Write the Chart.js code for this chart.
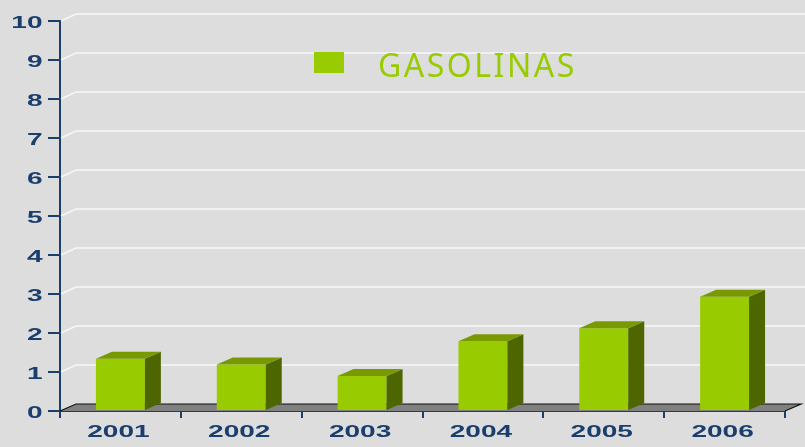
<!DOCTYPE html>
<html>
<head>
<meta charset="utf-8">
<script src="https://cdn.jsdelivr.net/npm/chart.js@4"></script>
<style>
  body { margin: 0; background: #dddddd; }
  #wrap { width: 805px; height: 447px; }
</style>
</head>
<body>
<div id="wrap"><canvas id="fuelChart" width="805" height="447"></canvas></div>
<script>
// data
var years = ['2001', '2002', '2003', '2004', '2005', '2006'];
var gasolinas = [1.34, 1.19, 0.90, 1.79, 2.12, 2.93];
var yMin = 0, yMax = 10, yStep = 1;

var DX = 16, DY = -7; // depth of the fake 3d
var axisBlue = '#1b3f6d';
var tickFont = 'bold 17px "Liberation Sans", Arial, sans-serif';
var stretch = 1.65; // labels in the original are drawn wide

// back wall grid, floor, 3d sides, legend and the stretched labels
var depthPlugin = {
    id: 'depth',
    beforeDatasetsDraw: function (chart) {
        var ctx = chart.ctx, a = chart.chartArea, ys = chart.scales.y;
        ctx.save();
        // grid on the back wall
        ctx.strokeStyle = '#f7f7f7';
        ctx.lineWidth = 1.5;
        ys.ticks.forEach(function (t) {
            if (t.value === yMin) return;
            var y = ys.getPixelForValue(t.value);
            ctx.beginPath();
            ctx.moveTo(a.left + 1, y);
            ctx.lineTo(a.left + DX, y + DY);
            ctx.lineTo(chart.width, y + DY);
            ctx.stroke();
        });
        // floor
        var b = ys.getPixelForValue(yMin);
        ctx.beginPath();
        ctx.moveTo(a.left, b);
        ctx.lineTo(a.left + DX, b + DY);
        ctx.lineTo(a.right + DX, b + DY);
        ctx.lineTo(a.right, b);
        ctx.closePath();
        ctx.fillStyle = '#808080';
        ctx.fill();
        ctx.strokeStyle = '#111111';
        ctx.lineWidth = 1.2;
        ctx.beginPath();
        ctx.moveTo(a.left, b);
        ctx.lineTo(a.left + DX, b + DY);
        ctx.lineTo(a.right + DX, b + DY);
        ctx.lineTo(a.right, b);
        ctx.stroke();
        ctx.restore();
    },
    afterDatasetsDraw: function (chart) {
        var ctx = chart.ctx;
        ctx.save();
        chart.getDatasetMeta(0).data.forEach(function (bar) {
            var l = bar.x - bar.width / 2, r = bar.x + bar.width / 2;
            var top = bar.y, base = bar.base;
            // side
            ctx.fillStyle = '#4d6600';
            ctx.beginPath();
            ctx.moveTo(r, top);
            ctx.lineTo(r + DX, top + DY);
            ctx.lineTo(r + DX, base + DY);
            ctx.lineTo(r, base);
            ctx.closePath();
            ctx.fill();
            // top
            ctx.fillStyle = '#789a00';
            ctx.beginPath();
            ctx.moveTo(l, top);
            ctx.lineTo(l + DX, top + DY);
            ctx.lineTo(r + DX, top + DY);
            ctx.lineTo(r, top);
            ctx.closePath();
            ctx.fill();
        });
        // legend
        var ds = chart.data.datasets[0];
        ctx.fillStyle = ds.backgroundColor;
        ctx.fillRect(314, 52, 30, 21);
        ctx.font = '32px "Comic Sans MS", "Noto Sans", sans-serif';
        ctx.letterSpacing = '2.5px';
        ctx.textAlign = 'left';
        ctx.textBaseline = 'alphabetic';
        ctx.fillText(ds.label, 378, 77);
        ctx.restore();
    },
    afterDraw: function (chart) {
        var ctx = chart.ctx, xs = chart.scales.x, ys = chart.scales.y;
        ctx.save();
        ctx.fillStyle = axisBlue;
        ctx.font = tickFont;
        ctx.textBaseline = 'alphabetic';
        ctx.textAlign = 'center';
        xs.ticks.forEach(function (t, i) {
            ctx.save();
            ctx.translate(xs.getPixelForTick(i) - 2, 437);
            ctx.scale(stretch, 1);
            ctx.fillText(xs.getLabelForValue(t.value), 0, 0);
            ctx.restore();
        });
        ctx.textAlign = 'right';
        ys.ticks.forEach(function (t) {
            ctx.save();
            ctx.translate(42.5, ys.getPixelForValue(t.value) + 6.5);
            ctx.scale(stretch, 1);
            ctx.fillText(t.label, 0, 0);
            ctx.restore();
        });
        ctx.restore();
    }
};

var fuelCtx = document.getElementById('fuelChart').getContext('2d');
var fuelChart = new Chart(fuelCtx, {
    type: 'bar',
    data: {
        labels: years,
        datasets: [{
            label: 'GASOLINAS',
            data: gasolinas,
            backgroundColor: '#99cc00',
            borderWidth: 0,
            categoryPercentage: 1,
            barPercentage: 0.405
        }]
    },
    options: {
        responsive: false,
        animation: false,
        layout: { padding: { top: 21, right: 20, left: 0, bottom: 0 } },
        plugins: {
            legend: { display: false },
            tooltip: { enabled: false }
        },
        scales: {
            x: {
                afterFit: function (s) { s.height = 36; },
                grid: {
                    drawOnChartArea: false,
                    drawTicks: true,
                    tickLength: 7,
                    color: axisBlue,
                    lineWidth: 2
                },
                border: { color: axisBlue, width: 2 },
                ticks: { color: 'rgba(0,0,0,0)' }
            },
            y: {
                min: yMin,
                max: yMax,
                afterFit: function (s) { s.width = 60; },
                grid: {
                    drawOnChartArea: false,
                    drawTicks: true,
                    tickLength: 12,
                    color: axisBlue,
                    lineWidth: 2
                },
                border: { color: axisBlue, width: 2 },
                ticks: { stepSize: yStep, color: 'rgba(0,0,0,0)' }
            }
        }
    },
    plugins: [depthPlugin]
});
</script>
</body>
</html>
